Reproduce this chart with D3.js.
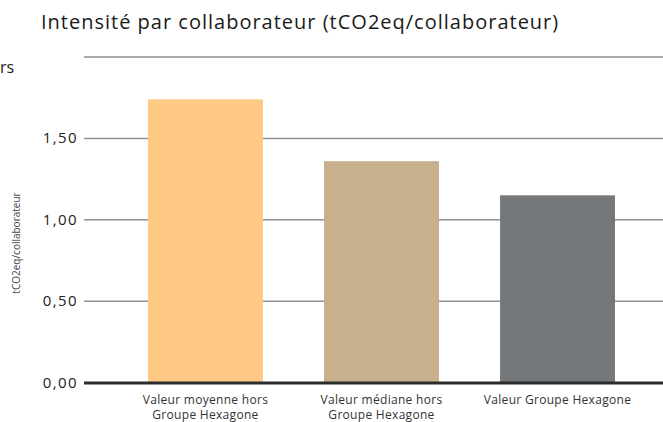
<!DOCTYPE html>
<html>
<head>
<meta charset="utf-8">
<script src="https://cdn.jsdelivr.net/npm/d3@7"></script>
<style>
  html, body { margin: 0; padding: 0; background: #fff; }
  svg { display: block; font-family: "Open Sans", sans-serif; }
</style>
</head>
<body>
<svg id="chart" width="663" height="422"></svg>
<script>
// ── Données ─────────────────────────────────────────────
const categories = [
  ["Valeur moyenne hors", "Groupe Hexagone"],
  ["Valeur médiane hors", "Groupe Hexagone"],
  ["Valeur Groupe Hexagone"]
];
const values = [1.74, 1.36, 1.15];
const colors = ["#fec985", "#c9b08c", "#75787b"];
const yTicks = [0, 0.5, 1, 1.5, 2];
const yTickLabels = ["0,00", "0,50", "1,00", "1,50", ""];

const svg = d3.select("#chart");
const W = 663;

// ── Échelles ────────────────────────────────────────────
const x = d3.scaleBand()
  .domain(d3.range(values.length))
  .range([86.4, 676.6])
  .paddingInner(0.347)
  .paddingOuter(0.35);

const y = d3.scaleLinear().domain([0, 2]).range([382.5, 57]);

// Titre
svg.append("text")
  .attr("x", 41).attr("y", 29)
  .attr("font-size", 20)
  .attr("letter-spacing", 1)
  .attr("fill", "#1a1a1a")
  .text("Intensité par collaborateur (tCO2eq/collaborateur)");

// reste de texte coupé à gauche
svg.append("text")
  .attr("x", 0).attr("y", 73)
  .attr("font-size", 16)
  .attr("fill", "#222")
  .text("rs");

// ── Grille ──────────────────────────────────────────────
svg.append("g")
  .selectAll("line")
  .data(yTicks.filter(d => d > 0))
  .join("line")
  .attr("x1", 84).attr("x2", W)
  .attr("y1", d => y(d)).attr("y2", d => y(d))
  .attr("stroke", "#8e9292")
  .attr("stroke-width", 1.5);

// ── Barres ──────────────────────────────────────────────
svg.append("g")
  .selectAll("rect")
  .data(values)
  .join("rect")
  .attr("x", (d, i) => x(i))
  .attr("width", x.bandwidth())
  .attr("y", d => y(d))
  .attr("height", d => y(0) - y(d))
  .attr("fill", (d, i) => colors[i]);

// Ligne de base
svg.append("line")
  .attr("x1", 84).attr("x2", W)
  .attr("y1", y(0) + 0.5).attr("y2", y(0) + 0.5)
  .attr("stroke", "#2b2b2b")
  .attr("stroke-width", 3);

// ── Axe Y ───────────────────────────────────────────────
svg.append("g")
  .selectAll("text")
  .data(yTicks)
  .join("text")
  .attr("x", 78)
  .attr("y", d => y(d) + 5)
  .attr("text-anchor", "end")
  .attr("font-size", 15)
  .attr("letter-spacing", 1.4)
  .attr("fill", "#222")
  .text((d, i) => yTickLabels[i]);

svg.append("text")
  .attr("transform", "translate(20,243) rotate(-90)")
  .attr("text-anchor", "middle")
  .attr("font-size", 10)
  .attr("fill", "#444")
  .text("tCO2eq/collaborateur");

// ── Axe X ───────────────────────────────────────────────
const xl = svg.append("g")
  .selectAll("text")
  .data(categories)
  .join("text")
  .attr("x", (d, i) => x(i) + x.bandwidth() / 2)
  .attr("y", 404)
  .attr("text-anchor", "middle")
  .attr("font-size", 12)
  .attr("letter-spacing", 0.3)
  .attr("fill", "#333");

xl.selectAll("tspan")
  .data(d => d)
  .join("tspan")
  .attr("x", function() { return d3.select(this.parentNode).attr("x"); })
  .attr("dy", (d, i) => i === 0 ? 0 : 15)
  .text(d => d);
</script>
</body>
</html>
